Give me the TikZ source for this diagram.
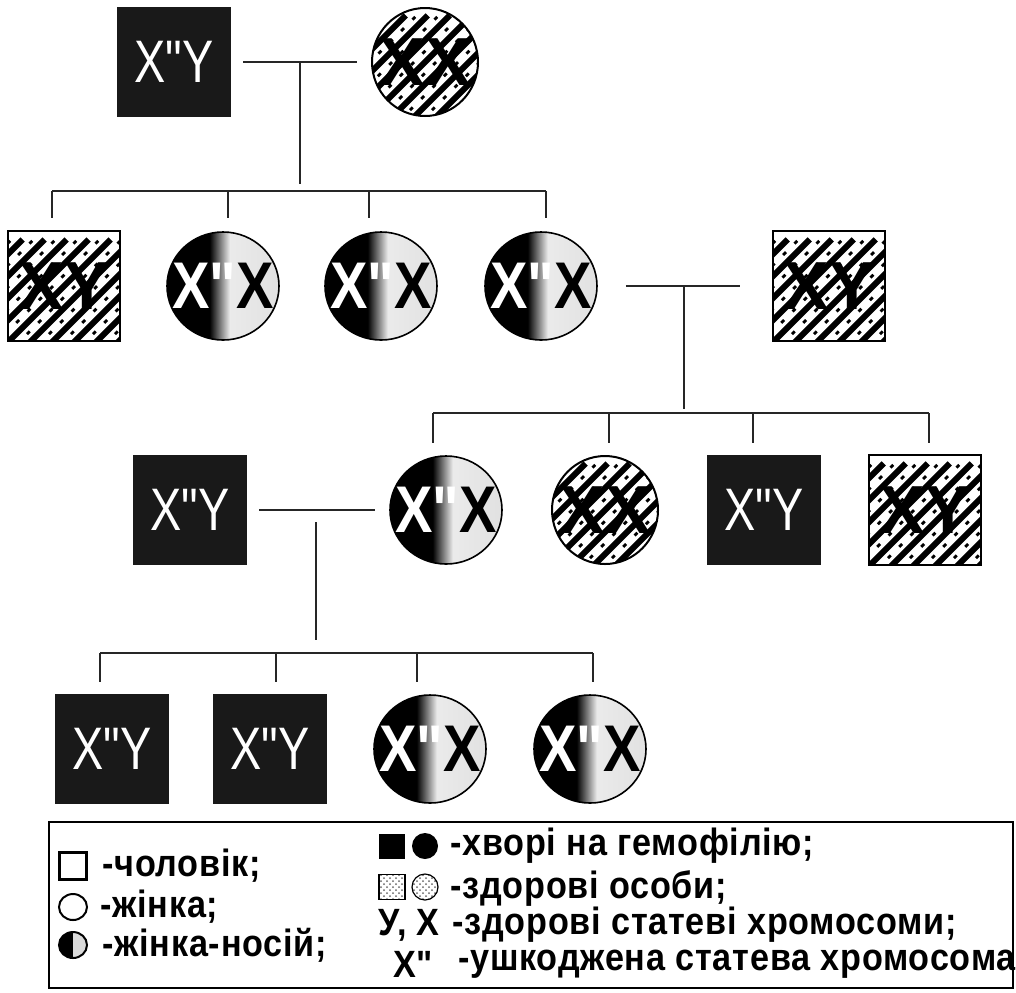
\documentclass[tikz,border=0pt]{standalone}
\usepackage{fontspec}
\setmainfont{Liberation Sans}
\newfontfamily\regfont[FakeStretch=0.78]{Liberation Sans}
\newfontfamily\carfont[FakeStretch=0.85]{Liberation Sans}
\newfontfamily\patfont{Liberation Sans}
\newfontfamily\legfont[FakeStretch=0.9,LetterSpace=2]{Liberation Sans}
\usetikzlibrary{shapes.geometric,patterns,calc}
\pgfdeclarehorizontalshading{carrier}{100bp}{color(0bp)=(black); color(44bp)=(black); color(53bp)=(white!92!black); color(100bp)=(white!84!black)}
\tikzset{
  line/.style={line width=1.3pt, draw=black!85},
  sick/.style={rectangle, fill=black!90, minimum width=57pt, minimum height=55pt, inner sep=0pt, text=white, font=\regfont\fontsize{30}{30}\selectfont},
  stripes/.style={path picture={
    \begin{scope}[shift={(path picture bounding box.center)}]
      \foreach \o in {-88,-77,...,88}{
        \draw[line width=3pt] (\o pt,0pt) ++(-35pt,-35pt) -- ++(70pt,70pt);
        \draw[line width=1.4pt, dash pattern=on 2pt off 6pt] (\o pt,0pt) ++(-29.5pt,-35pt) -- ++(70pt,70pt);
      }
    \end{scope}}},
  healthym/.style={rectangle, draw, line width=1pt, fill=white, stripes, minimum width=56pt, minimum height=55pt, inner sep=0pt, font=\bfseries\patfont\fontsize{34}{34}\selectfont},
  healthyf/.style={ellipse, draw, line width=1pt, fill=white, stripes, minimum width=53pt, minimum height=54pt, inner sep=-14pt, font=\bfseries\patfont\fontsize{34}{34}\selectfont},
  carrierf/.style={ellipse, draw, line width=0.8pt, shade, shading=carrier, minimum width=56pt, minimum height=54pt, inner sep=-14pt, font=\bfseries\carfont\fontsize{33}{33}\selectfont},
  legtext/.style={anchor=west, inner sep=0pt, font=\bfseries\legfont\fontsize{19}{19}\selectfont},
}
\begin{document}
\begin{tikzpicture}[x=0.5pt,y=-0.5pt]
\useasboundingbox[fill=white] (0,0) rectangle (1016,992);

% ---------- generation 1
\node[sick] (A) at (174,62) {X"Y};
\node[healthyf] (B) at (425,62) {XX};
\draw[line, shorten <=6pt, shorten >=7pt] (A) -- (B);
\coordinate (m1) at (300,62);
\coordinate (b1) at (300,184);

% ---------- generation 2
\coordinate (bar2l) at (52,191);
\coordinate (bar2r) at (546,191);
\node[healthym] (C) at (64,286) {XY};
\node[carrierf] (c2) at (223,286) {\textcolor{white}{X"}X};
\node[carrierf] (c3) at (381,286) {\textcolor{white}{X"}X};
\node[carrierf] (c4) at (541,286) {\textcolor{white}{X"}X};
\node[healthym] (R) at (829,286) {XY};
\draw[line] (m1) -- (b1);
\draw[line] (bar2l) -- (bar2r);
\foreach \x/\n in {52/C,228/c2,369/c3,546/c4}{
  \coordinate (t2\n) at (\x,191);
  \coordinate (u2\n) at (\x,218);
  \draw[line] (t2\n) -- (u2\n);
}
\draw[line, shorten <=14pt, shorten >=16pt] (c4) -- (R);
\coordinate (m2) at (684,286);
\coordinate (b2) at (684,409);
\draw[line] (m2) -- (b2);

% ---------- generation 3
\coordinate (bar3l) at (433,413);
\coordinate (bar3r) at (929,413);
\draw[line] (bar3l) -- (bar3r);
\node[sick] (D) at (190,510) {X"Y};
\node[carrierf] (E) at (446,510) {\textcolor{white}{X"}X};
\node[healthyf] (F) at (605,510) {XX};
\node[sick] (G) at (764,510) {X"Y};
\node[healthym] (H) at (925,510) {XY};
\foreach \x/\n in {433/E,609/F,753/G,929/H}{
  \coordinate (t3\n) at (\x,413);
  \coordinate (u3\n) at (\x,443);
  \draw[line] (t3\n) -- (u3\n);
}
\draw[line, shorten <=6pt, shorten >=7pt] (D) -- (E);
\coordinate (m3) at (316,522);
\coordinate (b3) at (316,640);
\draw[line] (m3) -- (b3);

% ---------- generation 4
\coordinate (bar4l) at (100,653);
\coordinate (bar4r) at (593,653);
\draw[line] (bar4l) -- (bar4r);
\node[sick] (I) at (112,749) {X"Y};
\node[sick] (J) at (270,749) {X"Y};
\node[carrierf] (K) at (430,749) {\textcolor{white}{X"}X};
\node[carrierf] (L) at (590,749) {\textcolor{white}{X"}X};
\foreach \x/\n in {100/I,276/J,417/K,593/L}{
  \coordinate (t4\n) at (\x,653);
  \coordinate (u4\n) at (\x,682);
  \draw[line] (t4\n) -- (u4\n);
}

% ---------- legend
\node[draw, line width=1.3pt, rectangle, minimum width=482pt, minimum height=83pt, inner sep=0pt] (leg) at (531,905) {};

\node[draw, line width=1.2pt, rectangle, minimum size=13.5pt, inner sep=0pt] (lq) at (73,866) {};
\node[legtext] (lqt) at (102,866) {-чоловік;};
\node[draw, line width=1pt, ellipse, minimum width=14pt, minimum height=13pt, inner sep=0pt] (lc) at (73,907) {};
\node[legtext] (lct) at (100,907) {-жінка;};
\node[draw, line width=1pt, ellipse, minimum width=14pt, minimum height=13pt, inner sep=0pt,
  path picture={\fill[black] (path picture bounding box.north) rectangle (path picture bounding box.south west);
                \fill[black!15] (path picture bounding box.north) rectangle (path picture bounding box.south east);}] (lh) at (73,945) {};
\node[legtext] (lht) at (102,945) {-жінка-носій;};

\node[fill=black, rectangle, minimum width=13pt, minimum height=12.5pt, inner sep=0pt] (ls1) at (392,846) {};
\node[fill=black, circle, minimum size=13pt, inner sep=0pt] (ls2) at (425,846) {};
\node[legtext] (lst) at (450,846) {-хворі на гемофілію;};
\node[draw, line width=0.6pt, pattern=crosshatch dots, pattern color=black!60, rectangle, minimum width=13pt, minimum height=12.5pt, inner sep=0pt] (lw1) at (392,887) {};
\node[draw, line width=0.6pt, pattern=crosshatch dots, pattern color=black!60, circle, minimum size=13pt, inner sep=0pt] (lw2) at (425,887) {};
\node[legtext] (lwt) at (450,888) {-здорові особи;};
\node[legtext, anchor=east] (lxy) at (440,925) {У, Х};
\node[legtext] (lxyt) at (452,925) {-здорові статеві хромосоми;};
\node[legtext] (lxx) at (393,964) {Х"};
\node[legtext] (lxxt) at (458,964) {-ушкоджена статева хромосома};
\end{tikzpicture}
\end{document}
